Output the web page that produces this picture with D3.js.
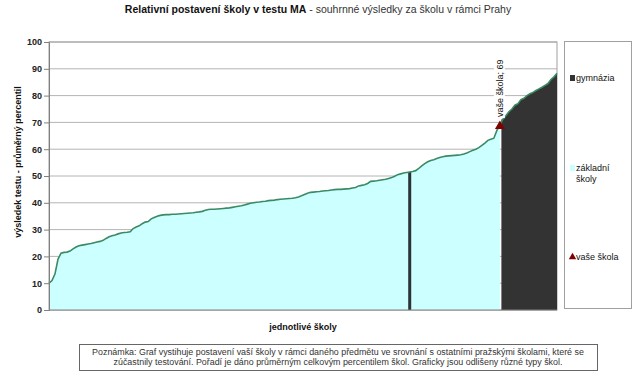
<!DOCTYPE html>
<html>
<head>
<meta charset="utf-8">
<script src="https://cdn.jsdelivr.net/npm/d3@7"></script>
<style>
  body { margin: 0; background: #fff; }
  text { font-family: "Liberation Sans", Arial, sans-serif; }
</style>
</head>
<body>
<svg id="chart" width="640" height="378"></svg>
<script>
// průměrné percentily základních škol (seřazeno)
const zakladni = [
  10.0, 11.0, 13.5, 19.0, 21.2, 21.5, 21.6, 22.0, 22.8, 23.5,
  24.0, 24.2, 24.4, 24.6, 24.8, 25.1, 25.4, 25.6, 26.0, 26.7,
  27.3, 27.7, 28.0, 28.4, 28.7, 28.9, 29.0, 29.2, 30.4, 31.0,
  31.4, 32.2, 32.8, 33.0, 34.0, 34.5, 35.0, 35.3, 35.5, 35.6,
  35.6, 35.7, 35.7, 35.8, 35.9, 36.0, 36.1, 36.2, 36.3, 36.5,
  36.6, 36.8, 37.2, 37.5, 37.6, 37.6, 37.7, 37.8, 37.9, 38.0,
  38.1, 38.3, 38.5, 38.7, 38.9, 39.2, 39.5, 39.8, 40.0, 40.2,
  40.3, 40.5, 40.6, 40.8, 40.9, 41.0, 41.2, 41.3, 41.4, 41.5,
  41.6, 41.7, 41.9, 42.2, 42.6, 43.1, 43.6, 43.9, 44.0, 44.1,
  44.2, 44.4, 44.5, 44.6, 44.8, 44.9, 45.0, 45.0, 45.1, 45.2,
  45.3, 45.5, 45.7, 46.3, 46.5, 46.7, 47.2, 48.0, 48.1, 48.2,
  48.4, 48.6, 48.8, 49.1, 49.4, 49.9, 50.5, 50.8, 51.1, 51.3,
  51.7, 52.0, 52.8, 53.8, 54.6, 55.3, 55.8, 56.1, 56.5, 56.9,
  57.2, 57.4, 57.5, 57.6, 57.7, 57.8, 57.9, 58.2, 58.6, 59.1,
  59.6, 60.0, 60.6, 61.4, 62.3, 63.3, 63.7, 64.1, 67.0
];
// gymnázia
const gymnazia = [
  51.5,
  71.2, 72.5, 74.0, 75.0, 76.4, 77.0, 78.5, 79.0, 80.0, 80.7,
  81.2, 81.9, 82.5, 83.1, 83.8, 84.5, 86.0, 87.0, 88.3
];
const vaseSkola = 69;

const yTicks = [0, 10, 20, 30, 40, 50, 60, 70, 80, 90, 100];
const legenda = [
  { typ: "gym", radky: ["gymnázia"] },
  { typ: "zs", radky: ["základní", "školy"] },
  { typ: "vase", radky: ["vaše škola"] }
];
const poznamka = [
  "Poznámka: Graf vystihuje postavení vaší školy v rámci daného předmětu ve srovnání s ostatními pražskými školami, které se",
  "zúčastnily testování. Pořadí je dáno průměrným celkovým percentilem škol. Graficky jsou odlišeny různé typy škol."
];

const barvy = { zs: "#ccffff", gym: "#333333", vase: "#800000", cara: "#3a8a63" };

// všechny školy seřazené podle percentilu
const skoly = zakladni.map(v => ({ v, typ: "zs" }))
  .concat(gymnazia.map(v => ({ v, typ: "gym" })))
  .concat([{ v: vaseSkola, typ: "vase" }])
  .sort((a, b) => d3.ascending(a.v, b.v));
skoly.forEach((d, i) => d.i = i);

const svg = d3.select("#chart");
const margin = { left: 49, right: 83, top: 42, bottom: 68 };
const W = 640, H = 378;

const x = d3.scaleLinear().domain([0, skoly.length - 1]).range([margin.left, W - margin.right]);
const y = d3.scaleLinear().domain([0, 100]).range([H - margin.bottom, margin.top]);

// titulek
const title = svg.append("text")
  .attr("x", 318).attr("y", 13)
  .attr("text-anchor", "middle")
  .attr("font-size", 10.5)
  .attr("fill", "#111");
title.append("tspan").attr("font-weight", "bold").text("Relativní postavení školy v testu MA");
title.append("tspan").attr("fill", "#333").text(" - souhrnné výsledky za školu v rámci Prahy");

// mřížka
svg.append("g")
  .selectAll("line")
  .data(yTicks.filter(t => t > 0))
  .join("line")
  .attr("x1", margin.left).attr("x2", W - margin.right)
  .attr("y1", d => y(d)).attr("y2", d => y(d))
  .attr("stroke", "#b4b4b4")
  .attr("stroke-width", 1);

// rámeček plochy grafu
svg.append("rect")
  .attr("x", margin.left).attr("y", y(100))
  .attr("width", W - margin.right - margin.left)
  .attr("height", y(0) - y(100))
  .attr("fill", "none")
  .attr("stroke", "#a0a0a0");

const prvniGym = skoly.findIndex(d => d.typ === "gym" && d.v > vaseSkola);
const gymCast = [{ i: prvniGym - 0.5, v: skoly[prvniGym].v }].concat(skoly.slice(prvniGym));

const area = d3.area()
  .x(d => x(d.i))
  .y0(y(0))
  .y1(d => y(d.v));

svg.append("path")
  .datum(skoly.slice(0, prvniGym))
  .attr("d", area)
  .attr("fill", barvy.zs);

svg.append("path")
  .datum(gymCast)
  .attr("d", area)
  .attr("fill", barvy.gym);

// gymnázium mezi základními školami
const krok = x(1) - x(0);
svg.append("g")
  .selectAll("rect")
  .data(skoly.filter(d => d.typ === "gym" && d.i < prvniGym))
  .join("rect")
  .attr("x", d => x(d.i) - krok / 2)
  .attr("width", krok)
  .attr("y", d => y(d.v))
  .attr("height", d => y(0) - y(d.v))
  .attr("fill", "#2d3333");

// křivka
svg.append("path")
  .datum(skoly)
  .attr("d", d3.line().x(d => x(d.i)).y(d => y(d.v)))
  .attr("fill", "none")
  .attr("stroke", barvy.cara)
  .attr("stroke-width", 1.6);

// osy
const yAxis = svg.append("g")
  .attr("transform", `translate(${margin.left},0)`)
  .call(d3.axisLeft(y).tickValues(yTicks).tickSize(5).tickPadding(2));
yAxis.select(".domain").attr("stroke", "#808080");
yAxis.selectAll(".tick line").attr("stroke", "#808080");
yAxis.selectAll(".tick text")
  .attr("font-family", "Liberation Sans, Arial, sans-serif")
  .attr("font-size", 9)
  .attr("font-weight", "bold")
  .attr("fill", "#222");

svg.append("line")
  .attr("x1", margin.left).attr("x2", W - margin.right)
  .attr("y1", y(0)).attr("y2", y(0))
  .attr("stroke", "#808080");

svg.append("text")
  .attr("transform", `translate(21,${(y(0) + y(100)) / 2 - 14}) rotate(-90)`)
  .attr("text-anchor", "middle")
  .attr("font-size", 9)
  .attr("font-weight", "bold")
  .attr("fill", "#111")
  .text("výsledek testu - průměrný percentil");

svg.append("text")
  .attr("x", (margin.left + W - margin.right) / 2)
  .attr("y", 330)
  .attr("text-anchor", "middle")
  .attr("font-size", 9)
  .attr("font-weight", "bold")
  .attr("fill", "#111")
  .text("jednotlivé školy");

// vaše škola
const vase = skoly.find(d => d.typ === "vase");
const tri = d3.symbol().type(d3.symbolTriangle).size(42);
svg.append("path")
  .attr("d", tri())
  .attr("transform", `translate(${x(vase.i)},${y(vase.v) + 1})`)
  .attr("fill", barvy.vase);

const popis = svg.append("g")
  .attr("transform", `translate(${x(vase.i) + 3},${y(vase.v) - 8}) rotate(-90)`);
popis.append("rect")
  .attr("x", -1).attr("y", -9).attr("width", 61).attr("height", 11)
  .attr("fill", "#fff");
popis.append("text")
  .attr("font-size", 9)
  .attr("fill", "#111")
  .text(`vaše škola; ${vaseSkola}`);

// legenda
svg.append("rect")
  .attr("x", 564.5).attr("y", 41.5).attr("width", 67).attr("height", 267)
  .attr("fill", "none").attr("stroke", "#a0a0a0");

const legY = [81, 171, 260];
const leg = svg.append("g")
  .selectAll("g")
  .data(legenda)
  .join("g")
  .attr("transform", (d, i) => `translate(570,${legY[i]})`);

leg.filter(d => d.typ !== "vase").append("rect")
  .attr("x", 0).attr("y", -6).attr("width", 5).attr("height", 6)
  .attr("fill", d => barvy[d.typ]);
leg.filter(d => d.typ === "vase").append("path")
  .attr("d", d3.symbol().type(d3.symbolTriangle).size(24)())
  .attr("transform", "translate(2.5,-3)")
  .attr("fill", barvy.vase);

leg.append("text")
  .attr("x", 6)
  .attr("font-size", 9)
  .attr("fill", "#111")
  .selectAll("tspan")
  .data(d => d.radky)
  .join("tspan")
  .attr("x", 6)
  .attr("dy", (d, i) => i === 0 ? 0 : 11)
  .text(d => d);

// poznámka
svg.append("rect")
  .attr("x", 79.5).attr("y", 344.5).attr("width", 518).attr("height", 26)
  .attr("fill", "none").attr("stroke", "#666");
svg.append("g")
  .selectAll("text")
  .data(poznamka)
  .join("text")
  .attr("x", 338)
  .attr("y", (d, i) => 354.5 + i * 10.5)
  .attr("text-anchor", "middle")
  .attr("font-size", 8.9)
  .attr("fill", "#333")
  .text(d => d);
</script>
</body>
</html>
